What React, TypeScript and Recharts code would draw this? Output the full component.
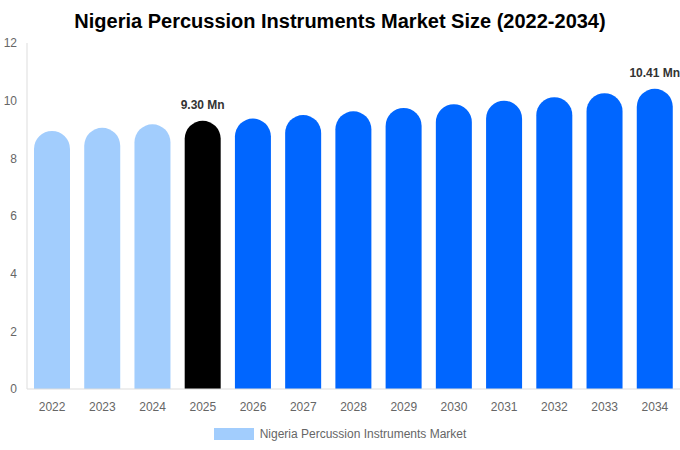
import React from 'react';
import { BarChart, Bar, XAxis, YAxis, Legend, Cell, LabelList } from 'recharts';

const years = ['2022', '2023', '2024', '2025', '2026', '2027', '2028', '2029', '2030', '2031', '2032', '2033', '2034'];
const marketSize = [8.95, 9.06, 9.18, 9.3, 9.38, 9.5, 9.63, 9.75, 9.88, 10.0, 10.12, 10.26, 10.41];
const yTicks = [0, 2, 4, 6, 8, 10, 12];
const labelledYears = ['2025', '2034'];

const FONT = '"Liberation Sans", Arial, sans-serif';

const barColor = (year: string) => {
  if (year === '2025') return '#000000';
  if (Number(year) < 2025) return '#a2cdfd';
  return '#0066ff';
};

const data = years.map((year, i) => ({ year, value: marketSize[i] }));

const ValueLabel = (props: any) => {
  const { x, y, width, value, index } = props;
  if (!labelledYears.includes(years[index])) return null;
  return (
    <text
      x={x + width / 2}
      y={y - 12}
      textAnchor="middle"
      fill="#333"
      fontSize={12}
      fontWeight="bold"
      fontFamily={FONT}
    >
      {`${Number(value).toFixed(2)} Mn`}
    </text>
  );
};

const LegendContent = () => (
  <div style={{ display: 'flex', justifyContent: 'center', alignItems: 'center', fontFamily: FONT, fontSize: 12, color: '#666' }}>
    <span style={{ display: 'inline-block', width: 40, height: 12, background: '#a2cdfd', marginRight: 6 }} />
    <span>Nigeria Percussion Instruments Market</span>
  </div>
);

export default function App() {
  return (
    <div style={{ position: 'absolute', left: 0, top: 0, width: 680, height: 450, background: '#fff', fontFamily: FONT }}>
      <div
        style={{
          position: 'absolute',
          top: 8,
          left: 0,
          width: 680,
          textAlign: 'center',
          fontSize: 20,
          fontWeight: 'bold',
          color: '#000',
          lineHeight: '26px',
        }}
      >
        Nigeria Percussion Instruments Market Size (2022-2034)
      </div>
      <BarChart
        width={680}
        height={450}
        data={data}
        margin={{ top: 43, right: 0, left: 0, bottom: 2 }}
        barSize={36}
      >
        <XAxis
          dataKey="year"
          tickLine={false}
          axisLine={{ stroke: '#ddd' }}
          tick={{ fontSize: 12, fill: '#666', fontFamily: FONT }}
          tickMargin={7}
          height={38}
        />
        <YAxis
          domain={[0, 12]}
          ticks={yTicks}
          width={27}
          tickLine={false}
          axisLine={{ stroke: '#ddd' }}
          tick={{ fontSize: 12, fill: '#666', fontFamily: FONT }}
          tickMargin={4}
        />
        <Legend verticalAlign="bottom" height={21} content={<LegendContent />} />
        <Bar dataKey="value" radius={[18, 18, 0, 0]} isAnimationActive={false}>
          {data.map((d) => (
            <Cell key={d.year} fill={barColor(d.year)} />
          ))}
          <LabelList dataKey="value" content={<ValueLabel />} />
        </Bar>
      </BarChart>
    </div>
  );
}
